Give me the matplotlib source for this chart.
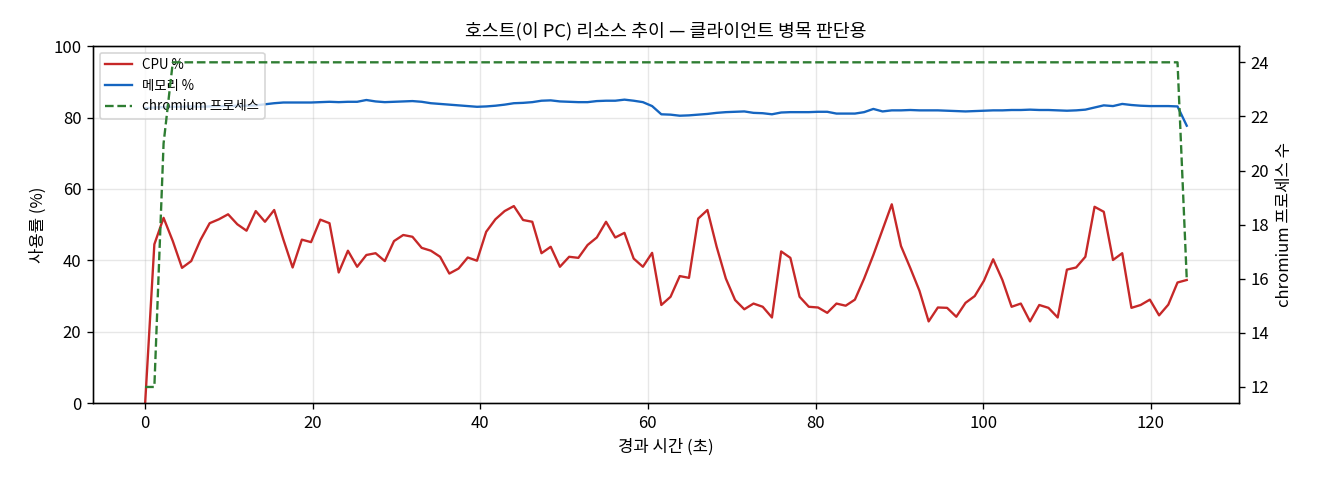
import numpy as np
import matplotlib
matplotlib.use("Agg")
import matplotlib.pyplot as plt

plt.rcParams['font.family'] = ['Noto Sans CJK KR', 'DejaVu Sans']

# sampling interval ~1.1 s
dt = 1.1

cpu = [0, 44.5, 51.9, 45.4, 37.9, 39.8, 45.7, 50.4, 51.5, 52.9, 50.1, 48.3, 53.8, 50.8,
       54.1, 45.8, 38.0, 45.8, 45.1, 51.4, 50.4, 36.6, 42.7, 38.2, 41.5, 42.0, 39.8,
       45.4, 47.1, 46.6, 43.5, 42.7, 41.0, 36.3, 37.7, 40.8, 39.9, 48.0, 51.5, 53.8,
       55.2, 51.3, 50.8, 42.0, 43.8, 38.2, 41.0, 40.7, 44.3, 46.4, 50.8, 46.4, 47.7,
       40.5, 38.2, 42.1, 27.5, 29.8, 35.6, 35.1, 51.7, 54.1,
       43.8, 34.9, 28.9, 26.3, 27.9, 27.0, 24.0, 42.5, 40.7, 29.8, 27.0, 26.8, 25.3,
       27.9, 27.3, 29.0, 34.9, 41.5, 48.6, 55.7, 44.0, 37.9, 31.5, 22.9, 26.8, 26.7,
       24.2, 28.1, 30.0, 34.3, 40.3, 34.5, 27.0, 27.9, 22.9,
       27.5, 26.7, 24.0, 37.4, 38.0, 41.0, 55.0, 53.6, 40.1, 42.0, 26.7, 27.5, 29.0,
       24.6, 27.6, 33.8, 34.5]

mem = [82.6, 82.8, 82.9, 83.0, 83.0, 83.1, 83.0, 83.1, 83.2, 83.2, 83.3, 83.3, 83.4,
       83.7, 84.0, 84.2, 84.2, 84.2, 84.2, 84.3, 84.4, 84.3, 84.4, 84.4, 84.9, 84.5,
       84.3, 84.4, 84.5, 84.6, 84.4, 84.0, 83.8, 83.6, 83.4, 83.2, 83.0, 83.1, 83.3,
       83.6, 84.0, 84.1, 84.3, 84.7, 84.8, 84.5, 84.4, 84.3, 84.3, 84.6, 84.7, 84.7,
       85.0, 84.7, 84.3, 83.2, 80.9, 80.8, 80.5, 80.6, 80.8, 81.0, 81.3, 81.5, 81.6,
       81.7, 81.3, 81.2, 80.9, 81.4, 81.5, 81.5, 81.5, 81.6, 81.6, 81.1, 81.1, 81.1,
       81.5, 82.4, 81.7, 82.0, 82.0, 82.1, 82.0, 82.0, 82.0, 81.9, 81.8, 81.7, 81.8,
       81.9, 82.0, 82.0, 82.1, 82.1, 82.2, 82.1, 82.1, 82.0, 81.9, 82.0, 82.2, 82.8,
       83.4, 83.2, 83.8, 83.5, 83.3, 83.2, 83.2, 83.2, 83.1, 77.7]

procs = [12, 12, 21] + [24] * 110 + [16]

t = np.arange(len(cpu)) * dt

fig = plt.figure(figsize=(11, 4), dpi=120)
ax = fig.add_axes([0.0705, 0.160, 0.868, 0.744])
ax2 = ax.twinx()

l1, = ax.plot(t, cpu, color='#c62828', lw=1.4, label='CPU %')
l2, = ax.plot(t, mem, color='#1565c0', lw=1.4, label='메모리 %')
l3, = ax2.plot(t, procs, color='#2e7d32', lw=1.4, ls='--', label='chromium 프로세스')

ax.set_ylim(0, 100)
ax.set_xlabel('경과 시간 (초)', fontsize=10)
ax.set_ylabel('사용률 (%)', fontsize=10)
ax2.set_ylabel('chromium 프로세스 수', fontsize=10)
ax.set_title('호스트(이 PC) 리소스 추이 — 클라이언트 병목 판단용', fontsize=11)
ax.grid(alpha=0.3)
ax.tick_params(labelsize=10)
ax2.tick_params(labelsize=10)

ax.legend(handles=[l1, l2, l3], loc='upper left', fontsize=8)

fig.savefig('out.png', dpi=120)
